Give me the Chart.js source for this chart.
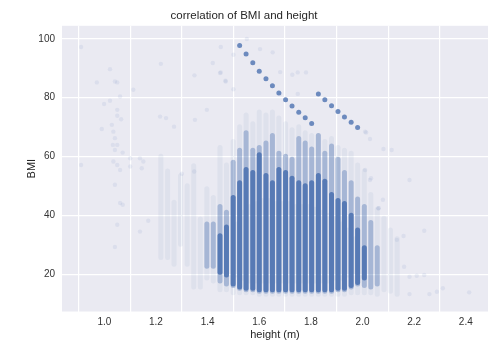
<!DOCTYPE html>
<html lang="en">
<head>
    <meta charset="UTF-8">
    <title>correlation of BMI and height</title>
    <script src="https://cdn.jsdelivr.net/npm/chart.js"></script>
    <style>
        body { margin: 0; background: #ffffff; }
        canvas { display: block; }
    </style>
</head>
<body>
    <canvas id="bmiChart" width="500" height="346"></canvas>

    <script>
        // Height columns (m) - self-reported heights land on whole inches
        const heights = [1.219, 1.245, 1.270, 1.295, 1.321, 1.346, 1.372, 1.397, 1.422, 1.448, 1.473,
            1.499, 1.524, 1.549, 1.575, 1.600, 1.626, 1.651, 1.676, 1.702, 1.727, 1.753, 1.778, 1.803,
            1.829, 1.854, 1.880, 1.905, 1.930, 1.956, 1.981, 2.007, 2.032, 2.057, 2.083, 2.108, 2.134];

        // Sparse (faint) extent of each column, BMI
        const faintLow = [25, 25, 22.7, 29.5, 22.7, 15, 15, 18, 17, 14, 14,
            13, 13, 13, 13, 12.5, 12.5, 12.5, 12.5, 12.5, 12.5, 12.5, 12.5, 12.5,
            12.5, 12.5, 12.5, 12.5, 12.5, 13, 13, 13, 13, 12.5, 14, 13.5, 12.5];
        const faintHigh = [61, 56, 45.4, 54.4, 51, 57.8, 39.7, 50, 47, 64, 58,
            66, 71, 75, 72, 76, 75, 76, 74, 72, 70, 71, 69, 68,
            68, 66, 67, 64, 63, 62, 58, 56, 48, 43, 40, 36, 33];

        // Medium density extent
        const midLow = [null, null, null, null, null, null, null, 22, 22, 17, 16,
            15.5, 14.5, 14, 14, 13.5, 13.5, 13.5, 13.5, 13.5, 13.5, 13.5, 13.5, 13.5,
            13.5, 13.5, 13.5, 14, 14, 15, 16, 15.5, 15, 16, null, null, null];
        const midHigh = [null, null, null, null, null, null, null, 38, 38, 44, 42,
            59, 63, 69, 63, 64, 65.5, 68, 62, 61, 60, 67, 65.5, 63.5,
            68, 62, 64.5, 60, 55.5, 52, 46.5, 44, 38.5, 30, null, null, null];

        // Dense (solid) core
        const coreLow = [null, null, null, null, null, null, null, null, null, 20, 19,
            16, 15, 14.5, 14.5, 14, 14, 14, 14, 14, 14, 14, 14, 14,
            14, 14, 14, 14.5, 14.5, 15.5, 16.5, 18, null, null, null, null, null];
        const coreHigh = [null, null, null, null, null, null, null, null, null, 34, 37,
            47, 52, 56.5, 55.5, 61.5, 54.5, 52, 56.5, 55.5, 53.5, 52, 51, 52,
            54.5, 52.5, 48, 46, 45, 41, 36, 30, null, null, null, null, null];

        // Light haze of off-grid (metric) heights between the inch columns
        const hazeHeight = [1.511, 1.537, 1.562, 1.588, 1.613, 1.638, 1.664, 1.689, 1.715, 1.740,
            1.765, 1.791, 1.816, 1.842, 1.867, 1.892, 1.918, 1.943, 1.969];
        const hazeLow = [19, 18, 17, 17, 17, 17, 17, 17, 17, 17,
            17, 17, 17, 17, 17, 18, 18, 19, 20];
        const hazeHigh = [38, 42, 44, 45, 46, 46, 45, 45, 45, 44,
            44, 44, 43, 42, 41, 40, 38, 36, 33];

        // Diagonal streaks of repeated records
        const streakHeight = [1.524, 1.549, 1.575, 1.600, 1.626, 1.651, 1.676, 1.702, 1.727, 1.753, 1.778, 1.803,
            1.829, 1.854, 1.880, 1.905, 1.930, 1.956, 1.981];
        const streakBmi = [97.7, 94.8, 91.9, 89.0, 86.4, 84.1, 81.6, 79.3, 77.2, 75.1, 73.2, 71.3,
            81.3, 79.3, 77.3, 75.3, 73.5, 71.7, 69.9];

        // Scattered single records
        const outlierHeight = [0.910, 1.022, 0.971, 1.041, 1.050, 1.112, 1.061, 0.999, 1.022, 1.219,
            1.050, 1.065, 1.050, 0.990, 1.029, 1.035, 1.041, 1.050, 1.033, 1.041,
            1.071, 1.100, 1.138, 1.035, 1.050, 1.061, 1.216, 1.239, 1.270, 1.351,
            1.349, 1.397, 1.420, 1.451, 1.470, 0.910, 1.300, 1.348, 1.151, 1.041,
            1.061, 1.071, 1.050, 1.138, 1.041, 1.170, 1.100, 1.145, 2.259, 2.288,
            2.311, 2.413, 2.239, 2.010, 2.029, 2.079, 2.182, 2.239, 2.133, 2.159,
            2.161, 2.182, 2.210, 2.182, 2.062, 1.552, 1.451, 1.500, 1.603, 1.652,
            1.448, 1.469, 1.500, 1.681, 1.749, 1.781, 1.681, 1.749, 1.728, 2.014,
            2.010, 2.029, 2.081, 2.113, 2.033, 2.062];
        const outlierBmi = [97.2, 89.7, 85.2, 85.5, 85.2, 82.7, 80.4, 77.9, 79.0, 91.5,
            75.9, 72.7, 73.9, 69.4, 70.8, 68.5, 66.3, 64.0, 64.0, 62.3,
            61.4, 59.5, 59.5, 58.4, 57.2, 55.5, 73.6, 73.1, 70.2, 72.5,
            87.6, 75.9, 91.8, 88.6, 85.5, 57.2, 54.2, 55.0, 58.4, 50.5,
            44.3, 43.7, 36.9, 34.6, 29.4, 38.3, 56.7, 56.1, 13.4, 14.2,
            15.4, 14.0, 19.9, 55.5, 52.1, 45.4, 52.1, 34.9, 31.8, 33.1,
            22.7, 19.3, 19.6, 13.4, 42.5, 99.9, 97.2, 94.6, 96.5, 95.4,
            88.4, 85.8, 82.9, 88.7, 88.6, 88.6, 81.3, 81.3, 87.8, 68.2,
            68.5, 66.0, 62.6, 62.3, 52.7, 42.5];

        // Axis ticks
        const xTicks = [1.0, 1.2, 1.4, 1.6, 1.8, 2.0, 2.2, 2.4];
        const yTicks = [20, 40, 60, 80, 100];
        const xMin = 0.836, xMax = 2.486;

        const blue = 'rgba(76, 114, 176, ';

        function ranges(xs, low, high) {
            const out = [];
            xs.forEach((h, i) => {
                if (low[i] !== null && high[i] !== null) {
                    out.push({ x: h, y: [low[i], high[i]] });
                }
            });
            return out;
        }

        function points(xs, ys) {
            return xs.map((x, i) => ({ x: x, y: ys[i] }));
        }

        // Seaborn-style grey panel behind the grid
        const panelBackground = {
            id: 'panelBackground',
            beforeDraw(chart) {
                const { ctx, chartArea } = chart;
                ctx.save();
                ctx.fillStyle = '#EAEAF2';
                ctx.fillRect(chartArea.left, chartArea.top, chartArea.right - chartArea.left, chartArea.bottom - chartArea.top);
                ctx.restore();
            }
        };

        Chart.defaults.font.family = "'Liberation Sans', Arial, sans-serif";

        const columnStyle = {
            type: 'bar',
            grouped: false,
            categoryPercentage: 1,
            barPercentage: 1,
            maxBarThickness: 5,
            inflateAmount: 0,
            borderSkipped: false,
            borderRadius: 2.5,
            borderWidth: 0
        };

        new Chart(document.getElementById('bmiChart'), {
            type: 'bar',
            data: {
                datasets: [
                    // haze sits on its own hidden axis so it does not narrow the main columns
                    Object.assign({}, columnStyle, {
                        xAxisID: 'xHaze',
                        data: ranges(hazeHeight, hazeLow, hazeHigh),
                        backgroundColor: blue + '0.07)',
                        maxBarThickness: 3,
                        order: 6
                    }),
                    Object.assign({}, columnStyle, {
                        data: ranges(heights, faintLow, faintHigh),
                        backgroundColor: blue + '0.07)',
                        order: 5
                    }),
                    {
                        type: 'scatter',
                        data: points(outlierHeight, outlierBmi),
                        backgroundColor: blue + '0.09)',
                        pointRadius: 2.2,
                        borderWidth: 0,
                        order: 4
                    },
                    Object.assign({}, columnStyle, {
                        data: ranges(heights, midLow, midHigh),
                        backgroundColor: blue + '0.38)',
                        order: 3
                    }),
                    Object.assign({}, columnStyle, {
                        data: ranges(heights, coreLow, coreHigh),
                        backgroundColor: blue + '0.88)',
                        order: 2
                    }),
                    {
                        type: 'scatter',
                        data: points(streakHeight, streakBmi),
                        backgroundColor: blue + '0.8)',
                        pointRadius: 2.5,
                        borderWidth: 0,
                        order: 1
                    }
                ]
            },
            options: {
                responsive: false,
                animation: false,
                devicePixelRatio: 1,
                layout: { padding: { left: 0, right: 12, top: 0, bottom: 0 } },
                plugins: {
                    legend: { display: false },
                    tooltip: { enabled: false },
                    title: {
                        display: true,
                        text: 'correlation of BMI and height',
                        color: '#262626',
                        font: { size: 11.5, weight: 'normal' },
                        padding: { top: 9, bottom: 3 }
                    }
                },
                scales: {
                    x: {
                        type: 'linear',
                        min: xMin,
                        max: xMax,
                        offset: false,
                        afterFit: (scale) => { scale.height = 34.5; },
                        afterBuildTicks: (scale) => { scale.ticks = xTicks.map(v => ({ value: v })); },
                        grid: { color: '#ffffff', lineWidth: 1.2, drawTicks: false },
                        border: { display: false },
                        ticks: {
                            color: '#333333',
                            font: { size: 10 },
                            padding: 5,
                            maxRotation: 0,
                            callback: (v) => Number(v).toFixed(1)
                        },
                        title: {
                            display: true,
                            text: 'height (m)',
                            color: '#262626',
                            font: { size: 11 },
                            padding: { top: 0, bottom: 4.4 }
                        }
                    },
                    xHaze: {
                        type: 'linear',
                        position: 'bottom',
                        min: xMin,
                        max: xMax,
                        offset: false,
                        display: false
                    },
                    y: {
                        min: 7.5,
                        max: 104.4,
                        afterFit: (scale) => { scale.width = 62; },
                        afterBuildTicks: (scale) => { scale.ticks = yTicks.map(v => ({ value: v })); },
                        grid: { color: '#ffffff', lineWidth: 1.2, drawTicks: false },
                        border: { display: false },
                        ticks: {
                            color: '#333333',
                            font: { size: 10 },
                            padding: 7
                        },
                        title: {
                            display: true,
                            text: 'BMI',
                            color: '#262626',
                            font: { size: 11 },
                            padding: { top: 25.4, bottom: 0 }
                        }
                    }
                }
            },
            plugins: [panelBackground]
        });
    </script>
</body>
</html>
